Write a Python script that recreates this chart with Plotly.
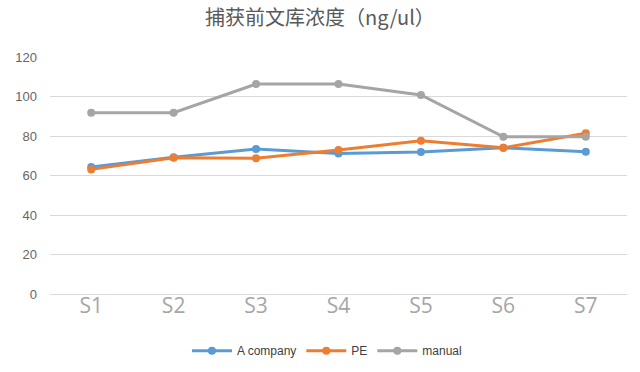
import plotly.graph_objects as go

categories = ["S1", "S2", "S3", "S4", "S5", "S6", "S7"]
a_company = [64.3, 69.2, 73.4, 71.2, 71.9, 74.0, 72.0]
pe = [63.1, 69.0, 68.7, 72.9, 77.6, 74.0, 81.4]
manual = [91.8, 91.8, 106.3, 106.3, 100.8, 79.6, 79.6]
y_ticks = [0, 20, 40, 60, 80, 100, 120]

series = [
    ("A company", a_company, "#5b9bd5"),
    ("PE", pe, "#ed7d31"),
    ("manual", manual, "#a5a5a5"),
]

fig = go.Figure()
for name, vals, color in series:
    fig.add_trace(go.Scatter(
        x=categories, y=vals, name=name, mode="lines+markers",
        line=dict(color=color, width=3),
        marker=dict(color=color, size=8),
    ))

fig.update_layout(
    width=640, height=372,
    margin=dict(l=50, r=13, t=57, b=78, autoexpand=False),
    paper_bgcolor="white", plot_bgcolor="white",
    title=dict(text="捕获前文库浓度（ng/ul）", x=0.5, xanchor="center",
               y=0.952, yanchor="middle",
               font=dict(family="Noto Sans CJK SC", size=20, color="#595959")),
    showlegend=True,
    legend=dict(orientation="h", x=0.48, xanchor="center",
                yref="container", y=0.057, yanchor="middle",
                itemwidth=40,
                font=dict(family="Liberation Sans", size=12, color="#404040")),
    xaxis=dict(type="category", range=[-0.5, 6.5], showgrid=False,
               showline=True, linecolor="#d9d9d9", linewidth=1,
               tickfont=dict(family="Open Sans", size=21, color="#a6a6a6"),
               ticks="", ticklabelstandoff=-7),
    yaxis=dict(range=[0, 120], tickvals=y_ticks, showgrid=True, gridcolor="#d9d9d9",
               zeroline=False, showline=False, ticks="", ticklabelstandoff=12,
               tickfont=dict(family="Liberation Sans", size=13, color="#666666")),
)

fig.write_html("out.html", config={"displayModeBar": False},
               post_script="document.body.style.margin='0';")
